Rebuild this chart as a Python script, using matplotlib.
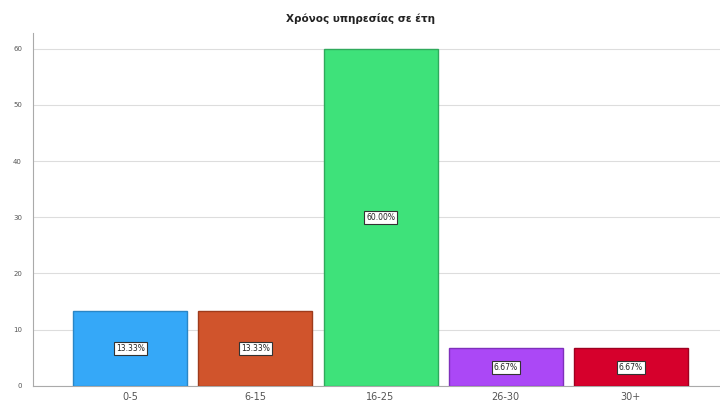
import matplotlib.pyplot as plt

# Data
categories = ["0-5", "6-15", "16-25", "26-30", "30+"]
percentages = [13.33, 13.33, 60.00, 6.67, 6.67]
bar_colors = ["#35a8f8", "#d0542c", "#3ee27a", "#ab48f6", "#d6002c"]
edge_colors = ["#2a86c6", "#9e3b1c", "#2faa5c", "#7f30bb", "#9e0020"]

fig = plt.figure(figsize=(7.2, 4.05), dpi=100)
ax = fig.add_axes([0.046, 0.047, 0.954, 0.872])

x = range(len(categories))
ax.bar(x, percentages, width=0.91, color=bar_colors, edgecolor=edge_colors,
       linewidth=1.0, zorder=3)

# Value labels inside boxes
for i, v in enumerate(percentages):
    ax.text(i, v / 2, f"{v:.2f}%", ha="center", va="center", fontsize=5.5,
            color="#222222", zorder=4,
            bbox=dict(boxstyle="square,pad=0.25", facecolor="white",
                      edgecolor="#333333", linewidth=0.8))

ax.set_xlim(-0.776, 4.712)
ax.set_ylim(0, 62.8)
ax.set_yticks(range(0, 61, 10))
ax.set_xticks(list(x))
ax.set_xticklabels(categories)
ax.tick_params(axis="both", length=0, labelsize=7, labelcolor="#555555")
ax.tick_params(axis="y", labelsize=5, pad=8)
ax.tick_params(axis="x", pad=4)

ax.grid(axis="y", color="#dddddd", linewidth=0.8, zorder=0)
for side in ["top", "right"]:
    ax.spines[side].set_visible(False)
for side in ["left", "bottom"]:
    ax.spines[side].set_color("#aaaaaa")
    ax.spines[side].set_linewidth(0.8)

fig.text(0.5, 0.955, "Χρόνος υπηρεσίας σε έτη", ha="center", va="center",
         fontsize=7.5, fontweight="bold", color="#222222")

fig.savefig("out.png", dpi=100, facecolor="white")
